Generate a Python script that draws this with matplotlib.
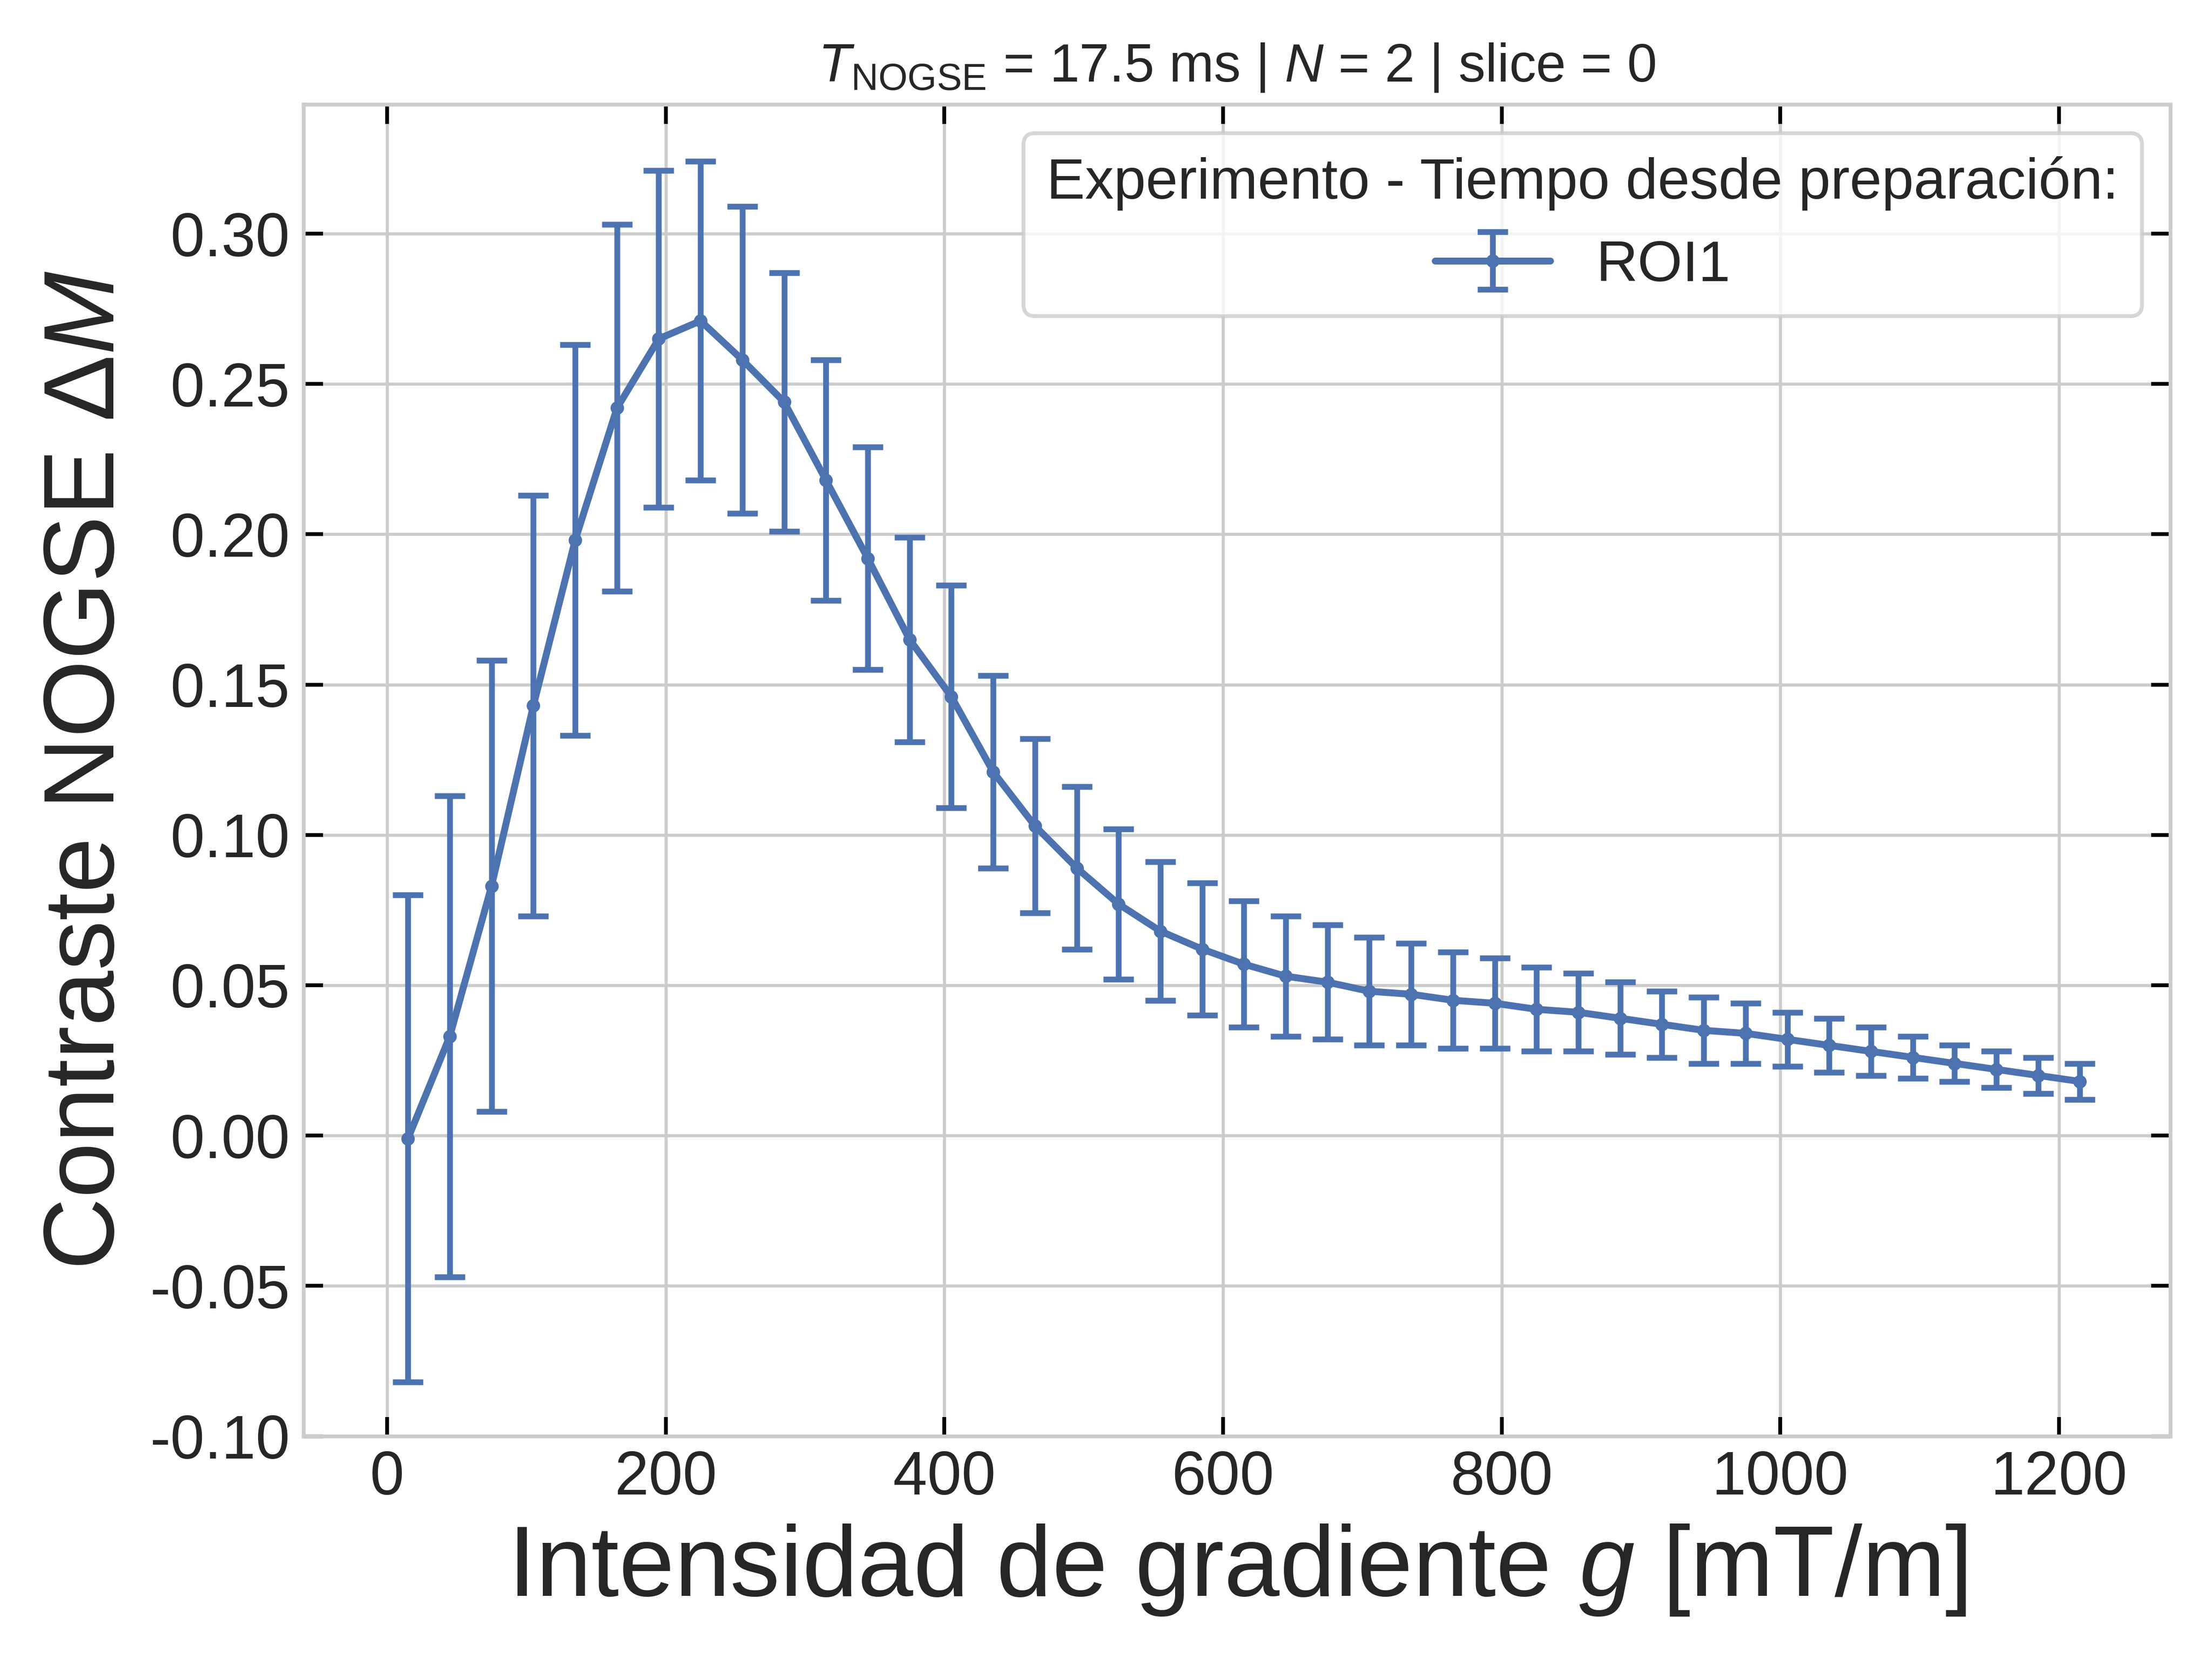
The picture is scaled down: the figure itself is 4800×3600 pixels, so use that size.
import matplotlib
matplotlib.use('Agg')
import matplotlib.pyplot as plt

g_values = [15, 45, 75, 105, 135, 165, 195, 225, 255, 285, 315, 345, 375, 405, 435,
            465, 495, 525, 555, 585, 615, 645, 675, 705, 735, 765, 795, 825, 855, 885,
            915, 945, 975, 1005, 1035, 1065, 1095, 1125, 1155, 1185, 1215]
contrast = [-0.001, 0.033, 0.083, 0.143, 0.198, 0.242, 0.265, 0.271, 0.258, 0.244,
            0.218, 0.192, 0.165, 0.146, 0.121, 0.103, 0.089, 0.077, 0.068, 0.062,
            0.057, 0.053, 0.051, 0.048, 0.047, 0.045, 0.044, 0.042, 0.041, 0.039,
            0.037, 0.035, 0.034, 0.032, 0.030, 0.028, 0.026, 0.024, 0.022, 0.020, 0.018]
errors = [0.081, 0.080, 0.075, 0.070, 0.065, 0.061, 0.056, 0.053, 0.051, 0.043,
          0.040, 0.037, 0.034, 0.037, 0.032, 0.029, 0.027, 0.025, 0.023, 0.022,
          0.021, 0.020, 0.019, 0.018, 0.017, 0.016, 0.015, 0.014, 0.013, 0.012,
          0.011, 0.011, 0.010, 0.009, 0.009, 0.008, 0.007, 0.006, 0.006, 0.006, 0.006]

plt.style.use('seaborn-v0_8-whitegrid')
plt.rcParams['font.family'] = ['Liberation Sans', 'DejaVu Sans']
plt.rcParams['mathtext.fontset'] = 'custom'
plt.rcParams['mathtext.rm'] = 'Liberation Sans'
plt.rcParams['mathtext.it'] = 'Liberation Sans:italic'

fig, ax = plt.subplots(figsize=(8, 6), dpi=600)
ax.errorbar(g_values, contrast, yerr=errors, fmt='-o', color='#4c72b0', lw=1.8,
            markersize=2.5, capsize=4, elinewidth=1.5, capthick=1.5, label='ROI1')

ax.set_xlabel('Intensidad de gradiente $g$ [mT/m]', fontsize=26)
ax.set_ylabel(r'Contraste NOGSE $\Delta M$', fontsize=26)
ax.set_title(r'$T_{\mathrm{NOGSE}}$ = 17.5 ms | $N$ = 2 | slice = 0', fontsize=14)
ax.set_xlim(-60, 1280)
ax.set_ylim(-0.1, 0.343)
ax.set_yticks([-0.10, -0.05, 0, 0.05, 0.10, 0.15, 0.20, 0.25, 0.30])
ax.yaxis.set_major_formatter(matplotlib.ticker.FormatStrFormatter('%.2f'))
ax.tick_params(direction='in', top=True, right=True, labelsize=16, length=5,
               width=1, color='black')
for s in ax.spines.values():
    s.set_color('#cccccc')
leg = ax.legend(title='Experimento - Tiempo desde preparación:', fontsize=15,
                title_fontsize=15, frameon=True, loc='upper right')
leg.get_frame().set_edgecolor('#cccccc')

plt.tight_layout()
fig.savefig('out.png')
